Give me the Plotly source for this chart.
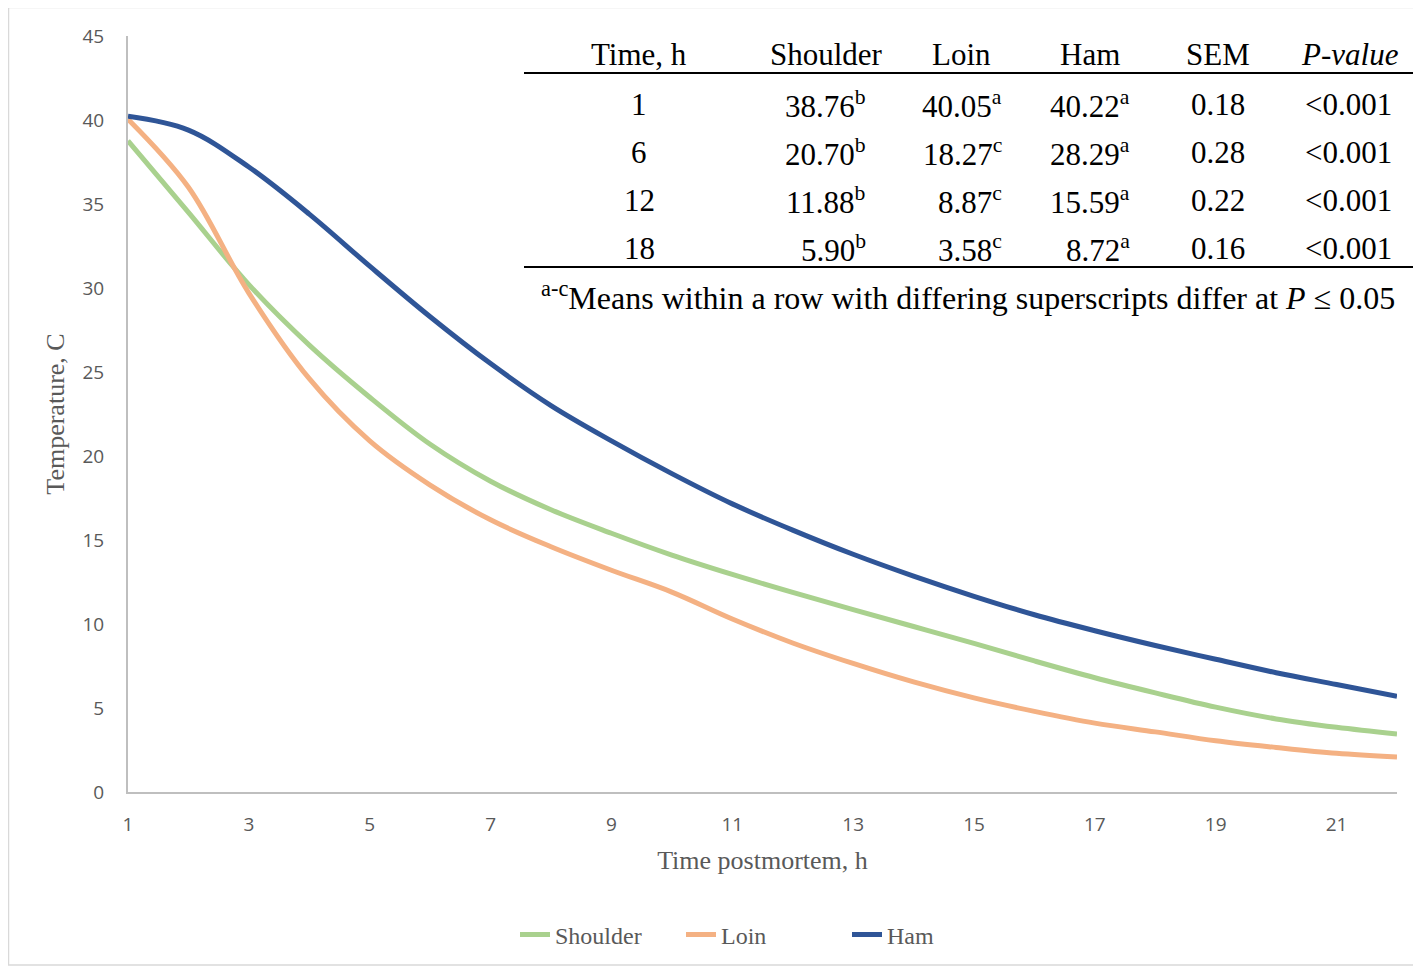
import plotly.graph_objects as go

# ---------------- data ----------------
hours = list(range(1, 23))
shoulder = [38.76, 34.5, 30.2, 26.6, 23.5, 20.70, 18.5, 16.8, 15.4, 14.1, 12.95, 11.88,
            10.85, 9.85, 8.85, 7.8, 6.8, 5.90, 5.05, 4.35, 3.85, 3.45]
loin = [40.05, 36.0, 29.7, 24.6, 20.9, 18.27, 16.2, 14.6, 13.2, 11.9, 10.3, 8.87,
        7.65, 6.55, 5.6, 4.8, 4.1, 3.58, 3.05, 2.65, 2.3, 2.08]
ham = [40.22, 39.4, 37.2, 34.4, 31.3, 28.29, 25.5, 23.0, 20.9, 18.95, 17.15, 15.59,
       14.15, 12.85, 11.65, 10.55, 9.6, 8.72, 7.9, 7.1, 6.4, 5.7]

x_ticks = [1, 3, 5, 7, 9, 11, 13, 15, 17, 19, 21]
y_ticks = [0, 5, 10, 15, 20, 25, 30, 35, 40, 45]

table_header = ["Time, h", "Shoulder", "Loin", "Ham", "SEM", "<i>P-value</i>"]
table_time = ["1", "6", "12", "18"]
table_shoulder = ["38.76", "20.70", "11.88", "5.90"]
table_shoulder_sup = ["b", "b", "b", "b"]
table_loin = ["40.05", "18.27", "8.87", "3.58"]
table_loin_sup = ["a", "c", "c", "c"]
table_ham = ["40.22", "28.29", "15.59", "8.72"]
table_ham_sup = ["a", "a", "a", "a"]
table_sem = ["0.18", "0.28", "0.22", "0.16"]
table_p = ["<0.001", "<0.001", "<0.001", "<0.001"]
footnote = "<sup>a-c</sup>Means within a row with differing superscripts differ at <i>P</i> ≤ 0.05"

colors = {"Shoulder": "#A9D18E", "Loin": "#F4B183", "Ham": "#2F5597"}

# ---------------- layout geometry (screen pixels; page body has 8px margin) ----------------
OFF = 8
W, H = 1421 - OFF, 967 - OFF
L, R, T, B = 128 - OFF, 1397 - OFF, 36 - OFF, 792 - OFF


def px(x):
    return (x - OFF - L) / (R - L)


def py(y):
    return (B - (y - OFF)) / (B - T)


fig = go.Figure()
for name, vals in [("Shoulder", shoulder), ("Loin", loin), ("Ham", ham)]:
    fig.add_trace(go.Scatter(
        x=hours, y=vals, mode="lines", name=name,
        line=dict(color=colors[name], width=5, shape="spline", smoothing=1.0),
    ))

serif = "Liberation Serif, Times New Roman, serif"
sans = "Open Sans, Liberation Sans, sans-serif"
TFS = 31

annotations = []
shapes = []

# table header
header_x = [639, 826, 962, 1090, 1218, 1350]
header_y = 55
for hx, txt in zip(header_x, table_header):
    annotations.append(dict(x=px(hx), y=py(header_y), xref="paper", yref="paper",
                            text=txt, showarrow=False, xanchor="center", yanchor="middle",
                            font=dict(family=serif, size=TFS, color="black")))

row_y = [104, 152, 200, 248]
for i, ry in enumerate(row_y):
    cells = [
        (639, "center", table_time[i]),
        (868, "right", f"{table_shoulder[i]}<sup>{table_shoulder_sup[i]}</sup>"),
        (1004, "right", f"{table_loin[i]}<sup>{table_loin_sup[i]}</sup>"),
        (1132, "right", f"{table_ham[i]}<sup>{table_ham_sup[i]}</sup>"),
        (1218, "center", table_sem[i]),
        (1394, "right", table_p[i].replace("<", "&lt;")),
    ]
    for cx, anc, txt in cells:
        annotations.append(dict(x=px(cx), y=py(ry), xref="paper", yref="paper",
                                text=txt, showarrow=False, xanchor=anc, yanchor="middle",
                                font=dict(family=serif, size=TFS, color="black")))

annotations.append(dict(x=px(1397), y=py(296), xref="paper", yref="paper",
                        text=footnote, showarrow=False, xanchor="right", yanchor="middle",
                        font=dict(family=serif, size=32, color="black")))

for ly in (73, 267):
    shapes.append(dict(type="line", xref="paper", yref="paper",
                       x0=px(524), x1=px(1417), y0=py(ly), y1=py(ly),
                       line=dict(color="black", width=2)))

# outer border
shapes.append(dict(type="rect", xref="paper", yref="paper",
                   x0=px(8.5), x1=px(1419), y0=py(7.5), y1=py(965),
                   line=dict(color="#D9D9D9", width=1.5), layer="below"))

fig.update_layout(
    width=W, height=H,
    margin=dict(l=L, r=W - R, t=T, b=H - B, autoexpand=False),
    paper_bgcolor="white", plot_bgcolor="white",
    showlegend=True,
    legend=dict(orientation="h", x=px(764), xanchor="center", y=py(935), yanchor="middle",
                font=dict(family=serif, size=24, color="#595959"),
                entrywidth=121, entrywidthmode="pixels",
                tracegroupgap=0),
    xaxis=dict(range=[1, 22], tickvals=x_ticks, showgrid=False, zeroline=False,
               showline=True, linecolor="#BFBFBF", linewidth=2,
               ticks="outside", ticklen=14, tickcolor="rgba(0,0,0,0)",
               tickfont=dict(family=sans, size=19, color="#595959"),
               title=dict(text="Time postmortem, h", standoff=15,
                          font=dict(family=serif, size=26, color="#595959"))),
    yaxis=dict(range=[0, 45], tickvals=y_ticks, showgrid=False, zeroline=False,
               showline=True, linecolor="#BFBFBF", linewidth=2,
               ticks="outside", ticklen=18, tickcolor="rgba(0,0,0,0)",
               tickfont=dict(family=sans, size=19, color="#595959"),
               title=dict(text="Temperature, C", standoff=10,
                          font=dict(family=serif, size=26, color="#595959"))),
    annotations=annotations,
    shapes=shapes,
)

fig.write_html("out.html")
